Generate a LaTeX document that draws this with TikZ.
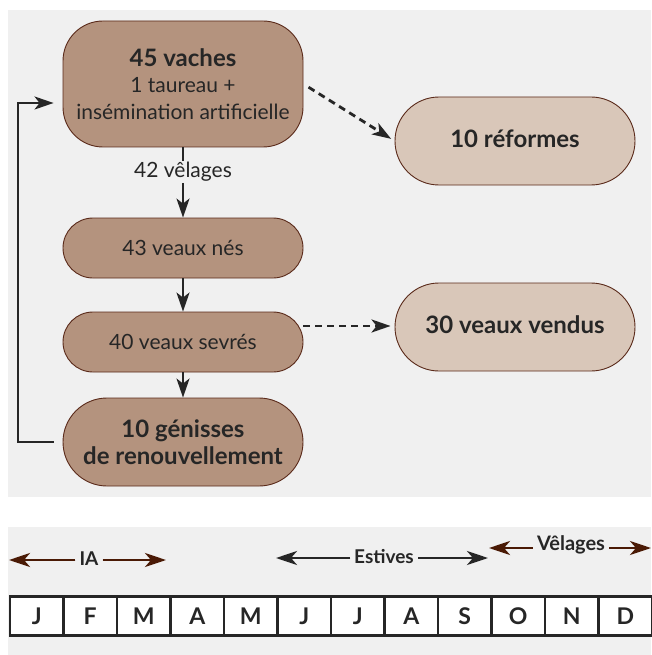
\documentclass[tikz,border=0pt]{standalone}
\usepackage{fontspec}
\setmainfont{Lato}
\usetikzlibrary{arrows.meta}
\definecolor{bgray}{HTML}{F0F0F0}
\definecolor{darkfill}{HTML}{B4937E}
\definecolor{lightfill}{HTML}{D9C7B9}
\definecolor{edgebrown}{HTML}{5A2A1A}
\definecolor{txt}{HTML}{262626}
\definecolor{arrbrown}{HTML}{4A1A05}
\begin{document}
\begin{tikzpicture}[x=1pt,y=-1pt,
  box/.style={draw=edgebrown,line width=0.9pt,text=txt,align=center,minimum width=240pt,inner sep=0pt},
  dark/.style={box,fill=darkfill},
  light/.style={box,fill=lightfill},
  reg/.style={font=\fontsize{21}{26.5}\selectfont},
  bld/.style={font=\fontsize{24}{27}\selectfont\bfseries},
  conn/.style={draw=txt,line width=2.4pt,-{Stealth[length=19pt,width=13pt,inset=5pt]}},
  dconn/.style={conn,line width=2.8pt,dash pattern=on 7pt off 5pt},
  month/.style={draw=txt,line width=2.2pt,fill=white,minimum width=53.5pt,minimum height=39pt,inner sep=0pt,font=\fontsize{23}{26}\selectfont\bfseries,text=txt},
  barr/.style={line width=2.8pt,-{Stealth[length=21pt,width=14pt,inset=6pt]}},
  lab/.style={font=\fontsize{19}{22}\selectfont\bfseries,text=txt,inner sep=4pt}
]
\useasboundingbox (0,0) rectangle (651,655);
\fill[bgray] (8,10) rectangle (651,497);
\fill[bgray] (8,527) rectangle (651,655);

\node[dark,minimum height=126pt,rounded corners=40pt,reg] (vaches) at (183,84)
  {{\fontsize{24}{26.5}\selectfont\bfseries 45 vaches}\\
   1 taureau +\\
   insémination artificielle};
\node[light,minimum height=88pt,rounded corners=44pt,bld] (reformes) at (515,141) {\raisebox{4pt}{10 réformes}};
\node[text=txt,reg,inner sep=1pt] (velages) at (183,172) {42 vêlages};
\node[dark,minimum height=60pt,rounded corners=30pt,reg] (nes) at (183,248) {43 veaux nés};
\node[dark,minimum height=60pt,rounded corners=30pt,reg] (sevres) at (183,342) {40 veaux sevrés};
\node[dark,minimum height=88pt,rounded corners=44pt,bld] (genisses) at (183,442) {10 génisses\\de renouvellement};
\node[light,minimum height=88pt,rounded corners=44pt,bld] (vendus) at (515,327) {\raisebox{5pt}{30 veaux vendus}};

\draw[draw=txt,line width=2.4pt] (vaches.south) -- (velages.north);
\draw[conn] (velages.south) -- (nes.north);
\draw[conn] (nes.south) -- (sevres.north);
\draw[conn] (sevres.south) -- (genisses.north);
\draw[dconn,shorten >=4pt,shorten <=6pt] (vaches.east) -- (reformes.west);
\draw[dconn,shorten >=4pt] (sevres.east |- 0,326) -- (reformes.west |- 0,326);
\coordinate (lx) at (18,0);
\draw[conn,shorten <=9pt,shorten >=9pt] (genisses.west) -- (lx |- genisses.west) -- (lx |- 0,103) -- (vaches.west |- 0,103);

\foreach \m [count=\i] in {J,F,M,A,M,J,J,A,S,O,N,D}
  \node[month] (m\i) at ({10+53.5*(\i-0.5)},616) {\m};

\node[lab] (ia) at (89,559) {IA};
\coordinate (iaL) at (9,560);
\coordinate (iaR) at (166,560);
\draw[barr,draw=arrbrown,fill=arrbrown] (ia.west |- iaL) -- (iaL);
\draw[barr,draw=arrbrown,fill=arrbrown] (ia.east |- iaR) -- (iaR);

\node[lab] (est) at (384,557) {Estives};
\coordinate (estL) at (276,558);
\coordinate (estR) at (488,558);
\draw[barr,draw=txt,fill=txt] (est.west |- estL) -- (estL);
\draw[barr,draw=txt,fill=txt] (est.east |- estR) -- (estR);

\node[lab,font=\fontsize{20}{23}\selectfont\bfseries] (vel) at (571,545) {Vêlages};
\coordinate (velL) at (489,548);
\coordinate (velR) at (651,548);
\draw[barr,draw=arrbrown,fill=arrbrown] (vel.west |- velL) -- (velL);
\draw[barr,draw=arrbrown,fill=arrbrown] (vel.east |- velR) -- (velR);
\end{tikzpicture}
\end{document}
